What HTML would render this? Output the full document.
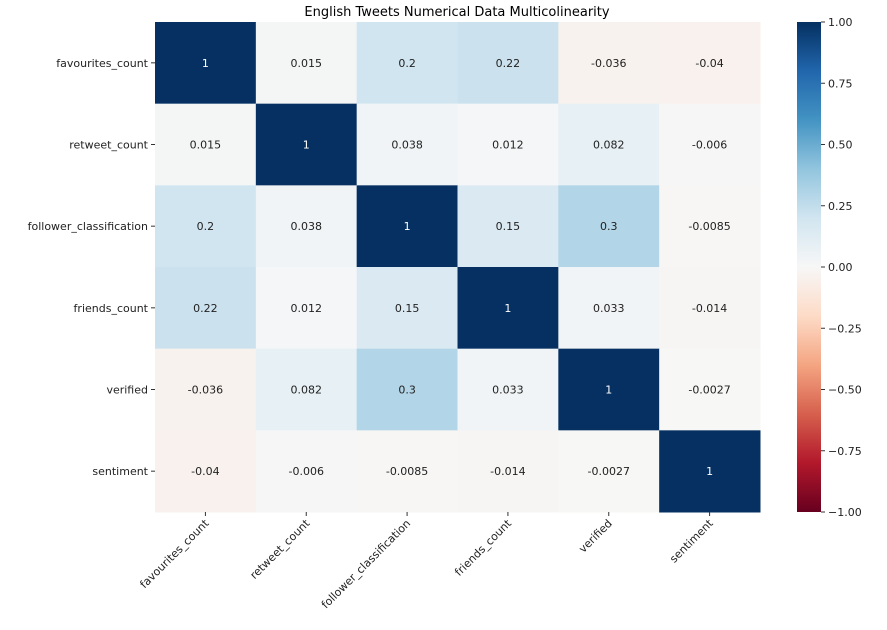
<!DOCTYPE html>
<html><head><meta charset="utf-8"><style>body{margin:0;background:#fff}svg{font-family:"DejaVu Sans","Liberation Sans",sans-serif}</style></head>
<body>
<svg id="c" width="887" height="625"></svg>
<script>
const labels=["favourites_count","retweet_count","follower_classification","friends_count","verified","sentiment"];
const matrix=[
[1,0.015,0.2,0.22,-0.036,-0.04],
[0.015,1,0.038,0.012,0.082,-0.006],
[0.2,0.038,1,0.15,0.3,-0.0085],
[0.22,0.012,0.15,1,0.033,-0.014],
[-0.036,0.082,0.3,0.033,1,-0.0027],
[-0.04,-0.006,-0.0085,-0.014,-0.0027,1]];
const cbTicks=[1,0.75,0.5,0.25,0,-0.25,-0.5,-0.75,-1];
const stops=["#67001f","#b2182b","#d6604d","#f4a582","#fddbc7","#f7f7f7","#d1e5f0","#92c5de","#4393c3","#2166ac","#053061"];
function hex(h){return [1,3,5].map(i=>parseInt(h.substr(i,2),16));}
function color(v){let t=(v+1)/2*10;let i=Math.min(9,Math.floor(t));let f=t-i;let a=hex(stops[i]),b=hex(stops[i+1]);return "rgb("+a.map((x,k)=>Math.round(x+(b[k]-x)*f)).join(",")+")";}
const NS="http://www.w3.org/2000/svg",svg=document.getElementById("c");
function el(t,at,p){const e=document.createElementNS(NS,t);for(const k in at)e.setAttribute(k,at[k]);(p||svg).appendChild(e);return e;}
const X0=155,Y0=22,W=605,H=490,n=labels.length,cw=W/n,ch=H/n;
const xs=i=>X0+i*cw, ys=i=>Y0+i*ch;
let t=el("text",{x:457,y:16,"text-anchor":"middle","font-size":13});t.textContent="English Tweets Numerical Data Multicolinearity";

for(let r=0;r<n;r++)for(let c=0;c<n;c++){const v=matrix[r][c];
 const rc=el("rect",{x:xs(c),y:ys(r),width:cw+0.5,height:ch+0.5,fill:color(v)});
 
 
 const tx=el("text",{x:xs(c)+cw/2,y:ys(r)+ch/2+4,"text-anchor":"middle","font-size":11,fill:Math.abs(v)>0.6?"#fff":"#222"});
 tx.textContent=String(v);
 
 
}
labels.forEach((l,i)=>{
 const y=ys(i)+ch/2;
 el("line",{x1:X0-4,x2:X0,y1:y,y2:y,stroke:"#333"});
 const a=el("text",{x:X0-7,y:y+4,"text-anchor":"end","font-size":11,fill:"#222"});a.textContent=l;
 
 const x=xs(i)+cw/2;
 el("line",{x1:x,x2:x,y1:Y0+H,y2:Y0+H+4,stroke:"#333"});
 const b=el("text",{x:x+4,y:Y0+H+12,"text-anchor":"end","font-size":11,fill:"#222",transform:`rotate(-45 ${x+4} ${Y0+H+12})`});b.textContent=l;
 
});
// colorbar
const defs=el("defs",{});const g=el("linearGradient",{id:"g",x1:0,y1:1,x2:0,y2:0},defs);
stops.forEach((s,i)=>el("stop",{offset:i/10,"stop-color":s},g));
const CX=797,CW=24;
const cb=el("rect",{x:CX,y:Y0,width:CW,height:H,fill:"url(#g)"});

const cy=v=>Y0+(1-v)/2*H;
cbTicks.forEach(v=>{const y=cy(v);el("line",{x1:CX+CW,x2:CX+CW+4,y1:y,y2:y,stroke:"#333"});
 const tt=el("text",{x:CX+CW+7,y:y+4,"font-size":11,fill:"#222"});tt.textContent=(v<0?"\u2212":"")+Math.abs(v).toFixed(2);
 });
</script>
</body></html>
